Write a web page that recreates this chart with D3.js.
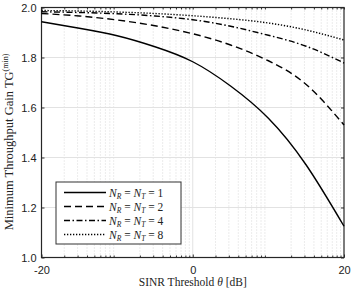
<!DOCTYPE html>
<meta charset="utf-8">
<style>
body { margin: 0; background: #fff; }
svg { font-family: "Liberation Serif", serif; }
.tick text { font-size: 11px; fill: #222; }
</style>
<body>
<div id="chart"></div>
<script src="https://d3js.org/d3.v7.min.js"></script>
<script>
// SINR threshold in dB (x axis is log in linear theta, labelled in dB)
var thetaDb = [-20, -15, -10, -5, 0, 5, 10, 15, 20];

var gain1 = [1.943, 1.917, 1.887, 1.843, 1.783, 1.686, 1.557, 1.370, 1.125];
var gain2 = [1.976, 1.966, 1.950, 1.927, 1.895, 1.850, 1.787, 1.692, 1.530];
var gain4 = [1.983, 1.980, 1.975, 1.966, 1.951, 1.925, 1.889, 1.845, 1.778];
var gain8 = [1.988, 1.986, 1.982, 1.976, 1.967, 1.955, 1.938, 1.910, 1.870];

var seriesN = ["1", "2", "4", "8"];
var dashes = ["none", "7,4", "6,2.5,1.5,2.5", "1.3,1.7"];
var yTicks = [1.0, 1.2, 1.4, 1.6, 1.8, 2.0];
var xTicks = [-20, 0, 20];

var width = 352, height = 292;
var margin = {left: 41.5, right: 8, top: 7.5, bottom: 34.5};

var svg = d3.select("#chart").append("svg")
    .attr("width", width)
    .attr("height", height);

var x = d3.scaleLog()
    .domain([0.01, 100])
    .range([margin.left, width - margin.right]);

var y = d3.scaleLinear()
    .domain([1, 2])
    .range([height - margin.bottom, margin.top]);

function lin(db) { return Math.pow(10, db / 10); }

// minor positions 2..9 in each decade
var minor = [];
[0.01, 0.1, 1, 10].forEach(function(d) {
  for (var k = 2; k <= 9; k++) minor.push(d * k);
});

var grid = svg.append("g");
grid.selectAll(".vminor")
  .data(minor)
  .enter().append("line")
    .attr("x1", function(d) { return x(d); })
    .attr("x2", function(d) { return x(d); })
    .attr("y1", y(1))
    .attr("y2", y(2))
    .attr("stroke", "#cfcfcf")
    .attr("stroke-width", 0.8)
    .attr("stroke-dasharray", "1,2");

grid.selectAll(".hmajor")
  .data(yTicks.slice(1, -1))
  .enter().append("line")
    .attr("x1", x.range()[0])
    .attr("x2", x.range()[1])
    .attr("y1", function(d) { return y(d); })
    .attr("y2", function(d) { return y(d); })
    .attr("stroke", "#e2e2e2")
    .attr("stroke-width", 1);

grid.append("line")
    .attr("x1", x(1)).attr("x2", x(1))
    .attr("y1", y(1)).attr("y2", y(2))
    .attr("stroke", "#e2e2e2")
    .attr("stroke-width", 1);

// axes
var xAxis = svg.append("g")
    .attr("transform", "translate(0," + y(1) + ")")
    .call(d3.axisBottom(x)
      .tickValues(xTicks.map(lin))
      .tickSize(-3)
      .tickPadding(9)
      .tickFormat(function(d) { return Math.round(10 * Math.log10(d)); }));
xAxis.select(".domain").remove();

svg.append("g")
    .attr("transform", "translate(0," + y(1) + ")")
    .call(d3.axisBottom(x).tickValues(minor).tickSize(-2).tickFormat(""))
    .select(".domain").remove();

svg.append("g")
    .attr("transform", "translate(0," + y(2) + ")")
    .call(d3.axisTop(x).tickValues(xTicks.map(lin).concat(minor)).tickSize(-2).tickFormat(""))
    .select(".domain").remove();

var yAxis = svg.append("g")
    .attr("transform", "translate(" + x.range()[0] + ",0)")
    .call(d3.axisLeft(y)
      .tickValues(yTicks)
      .tickSize(-3)
      .tickPadding(5)
      .tickFormat(d3.format(".1f")));
yAxis.select(".domain").remove();

svg.append("g")
    .attr("transform", "translate(" + x.range()[1] + ",0)")
    .call(d3.axisRight(y).tickValues(yTicks).tickSize(-3).tickFormat(""))
    .select(".domain").remove();

svg.selectAll(".tick line").attr("stroke", "#333");

// frame
svg.append("rect")
    .attr("x", x.range()[0])
    .attr("y", y(2))
    .attr("width", x.range()[1] - x.range()[0])
    .attr("height", y(1) - y(2))
    .attr("fill", "none")
    .attr("stroke", "#262626")
    .attr("stroke-width", 1.2);

// curves
var line = d3.line()
    .x(function(d) { return x(lin(d[0])); })
    .y(function(d) { return y(d[1]); })
    .curve(d3.curveNatural);

[gain1, gain2, gain4, gain8].forEach(function(g, i) {
  svg.append("path")
    .datum(thetaDb.map(function(t, j) { return [t, g[j]]; }))
    .attr("d", line)
    .attr("fill", "none")
    .attr("stroke", "#000")
    .attr("stroke-width", 1.4)
    .attr("stroke-dasharray", dashes[i]);
});

// legend
var leg = svg.append("g");
leg.append("rect")
    .attr("x", 56).attr("y", 182)
    .attr("width", 125).attr("height", 62)
    .attr("fill", "#fff")
    .attr("stroke", "#333")
    .attr("stroke-width", 1);

seriesN.forEach(function(n, i) {
  var ly = 192.5 + i * 14;
  leg.append("line")
    .attr("x1", 64).attr("x2", 106)
    .attr("y1", ly).attr("y2", ly)
    .attr("stroke", "#000")
    .attr("stroke-width", 1.4)
    .attr("stroke-dasharray", dashes[i]);
  var t = leg.append("text")
    .attr("x", 109).attr("y", ly + 4)
    .attr("font-size", 11.5)
    .attr("fill", "#222");
  t.append("tspan").attr("font-style", "italic").text("N");
  t.append("tspan").attr("font-size", 7.5).attr("font-style", "italic").attr("dy", 2).text("R");
  t.append("tspan").attr("dy", -2).text(" = ");
  t.append("tspan").attr("font-style", "italic").text("N");
  t.append("tspan").attr("font-size", 7.5).attr("font-style", "italic").attr("dy", 2).text("T");
  t.append("tspan").attr("dy", -2).text(" = " + n);
});

// axis titles
var xl = svg.append("text")
    .attr("x", x(1))
    .attr("y", 286)
    .attr("text-anchor", "middle")
    .attr("font-size", 11.5)
    .attr("fill", "#222");
xl.append("tspan").text("SINR Threshold ");
xl.append("tspan").attr("font-style", "italic").text("θ");
xl.append("tspan").text(" [dB]");

var yl = svg.append("text")
    .attr("transform", "translate(13,142) rotate(-90)")
    .attr("text-anchor", "middle")
    .attr("font-size", 12.5)
    .attr("fill", "#222");
yl.append("tspan").text("Minimum Throughput Gain TG");
yl.append("tspan").attr("font-size", 8).attr("dy", -5).text("(min)");
</script>
</body>
